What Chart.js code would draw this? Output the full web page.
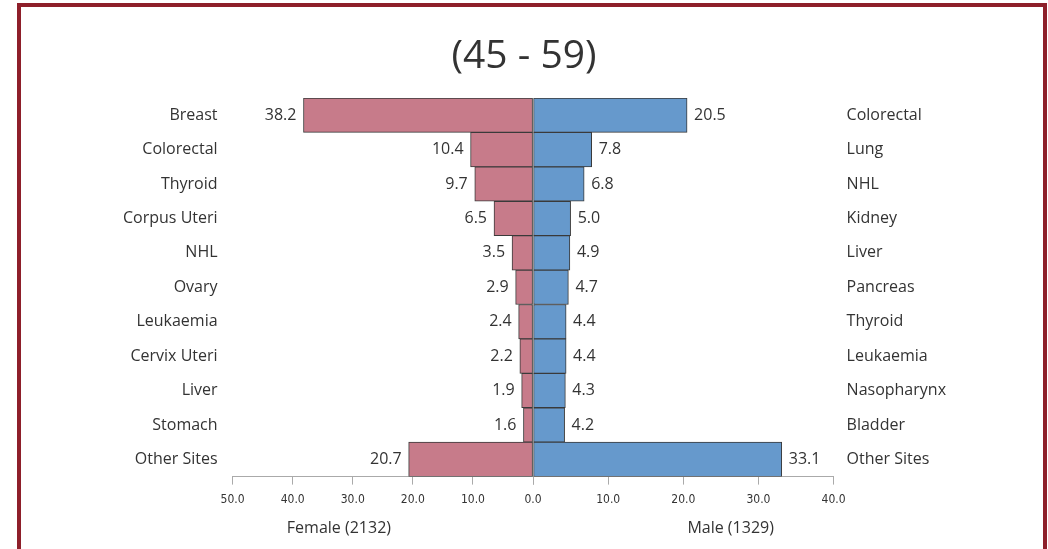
<!DOCTYPE html>
<html>
<head>
<meta charset="utf-8">
<script src="https://cdn.jsdelivr.net/npm/chart.js@4"></script>
<style>
    html, body { margin: 0; padding: 0; background: #fff; overflow: hidden; }
    #frame {
        position: absolute; left: 17px; top: 3px; width: 1030px; height: 600px;
        border: 4px solid #8e1f2a; box-sizing: border-box;
    }
    #wrap { position: absolute; left: 0; top: 0; width: 1048px; height: 549px; }
</style>
</head>
<body>
<div id="frame"></div>
<div id="wrap"><canvas id="chart" width="1048" height="549"></canvas></div>
<script>
// 45 - 59 age group, top sites per sex
const femaleSites = ['Breast', 'Colorectal', 'Thyroid', 'Corpus Uteri', 'NHL', 'Ovary', 'Leukaemia', 'Cervix Uteri', 'Liver', 'Stomach', 'Other Sites'];
const femaleValues = [38.2, 10.4, 9.7, 6.5, 3.5, 2.9, 2.4, 2.2, 1.9, 1.6, 20.7];
const maleSites = ['Colorectal', 'Lung', 'NHL', 'Kidney', 'Liver', 'Pancreas', 'Thyroid', 'Leukaemia', 'Nasopharynx', 'Bladder', 'Other Sites'];
const maleValues = [20.5, 7.8, 6.8, 5.0, 4.9, 4.7, 4.4, 4.4, 4.3, 4.2, 33.1];
const femaleTicks = [0, 10, 20, 30, 40, 50];
const maleTicks = [0, 10, 20, 30, 40];

const fontFamily = '"Open Sans", "Noto Sans", sans-serif';
const labelFont = '16px ' + fontFamily;
const textColor = '#333';

// title drawn over the middle of the page
const pageTitle = {
    id: 'pageTitle',
    afterDraw(chart) {
        const ctx = chart.ctx;
        ctx.save();
        ctx.font = '39px ' + fontFamily;
        ctx.fillStyle = textColor;
        ctx.textAlign = 'center';
        ctx.textBaseline = 'middle';
        ctx.fillText('(45 - 59)', chart.width / 2, 57);
        ctx.restore();
    }
};

// value labels next to the bar ends
const valueLabels = {
    id: 'valueLabels',
    afterDatasetsDraw(chart) {
        const ctx = chart.ctx;
        ctx.save();
        ctx.font = labelFont;
        ctx.fillStyle = textColor;
        ctx.textBaseline = 'middle';
        chart.data.datasets.forEach((ds, i) => {
            const meta = chart.getDatasetMeta(i);
            meta.data.forEach((bar, j) => {
                const txt = ds.data[j].toFixed(1);
                if (ds.side === 'female') {
                    ctx.textAlign = 'right';
                    ctx.fillText(txt, bar.x - 7, bar.y);
                } else {
                    ctx.textAlign = 'left';
                    ctx.fillText(txt, bar.x + 7, bar.y);
                }
            });
        });
        ctx.restore();
    }
};

// sex titles under each half of the axis
const sideTitles = {
    id: 'sideTitles',
    afterDraw(chart) {
        const ctx = chart.ctx;
        const xF = chart.scales.xF, xM = chart.scales.xM;
        ctx.save();
        ctx.font = labelFont;
        ctx.fillStyle = textColor;
        ctx.textAlign = 'center';
        ctx.textBaseline = 'middle';
        ctx.fillText('Female (2132)', xF.getPixelForValue(32.3), 528);
        ctx.fillText('Male (1329)', xM.getPixelForValue(26.3), 528);
        ctx.restore();
    }
};

const tickFont = { family: '"Liberation Sans Narrow", "DejaVu Sans Condensed", sans-serif', size: 12 };

new Chart(document.getElementById('chart'), {
    type: 'bar',
    data: {
        labels: femaleSites,
        datasets: [
            {
                label: 'Female',
                side: 'female',
                data: femaleValues,
                xAxisID: 'xF',
                yAxisID: 'y',
                backgroundColor: '#c77b8a',
                borderColor: '#3a3a3a',
                borderWidth: 1,
                borderSkipped: false,
                grouped: false,
                barPercentage: 1,
                categoryPercentage: 1
            },
            {
                label: 'Male',
                side: 'male',
                data: maleValues,
                xAxisID: 'xM',
                yAxisID: 'y',
                backgroundColor: '#6699cc',
                borderColor: '#3a3a3a',
                borderWidth: 1,
                borderSkipped: false,
                grouped: false,
                barPercentage: 1,
                categoryPercentage: 1
            }
        ]
    },
    options: {
        indexAxis: 'y',
        responsive: false,
        animation: false,
        layout: { padding: { top: 98, bottom: 34, left: 116, right: 97 } },
        plugins: {
            legend: { display: false },
            tooltip: { enabled: false },
            title: { display: false }
        },
        scales: {
            xF: {
                type: 'linear',
                position: 'bottom',
                stack: 'x',
                stackWeight: 1,
                reverse: true,
                min: 0,
                max: 50,
                afterBuildTicks: (s) => { s.ticks = femaleTicks.map(v => ({ value: v })); },
                ticks: { color: textColor, font: tickFont, padding: 8, autoSkip: false, maxRotation: 0, minRotation: 0, callback: v => v.toFixed(1) },
                grid: { drawOnChartArea: false, tickLength: 8, color: '#aaa' },
                border: { display: true, color: '#aaa' }
            },
            xM: {
                type: 'linear',
                position: 'bottom',
                stack: 'x',
                stackWeight: 1,
                min: 0,
                max: 40,
                afterBuildTicks: (s) => { s.ticks = maleTicks.map(v => ({ value: v })); },
                ticks: { color: textColor, font: tickFont, padding: 8, autoSkip: false, maxRotation: 0, minRotation: 0, callback: v => v === 0 ? '' : v.toFixed(1) },
                grid: { drawOnChartArea: false, tickLength: 8, color: '#aaa' },
                border: { display: true, color: '#aaa' }
            },
            y: {
                type: 'category',
                position: 'left',
                labels: femaleSites,
                offset: true,
                ticks: { color: textColor, font: { family: fontFamily, size: 16 }, padding: 7 },
                grid: { display: false },
                border: { display: false }
            },
            yR: {
                type: 'category',
                position: 'right',
                labels: maleSites,
                offset: true,
                ticks: { color: textColor, font: { family: fontFamily, size: 16 }, padding: 5 },
                grid: { display: false },
                border: { display: false }
            }
        }
    },
    plugins: [valueLabels, sideTitles, pageTitle]
});
</script>
</body>
</html>
